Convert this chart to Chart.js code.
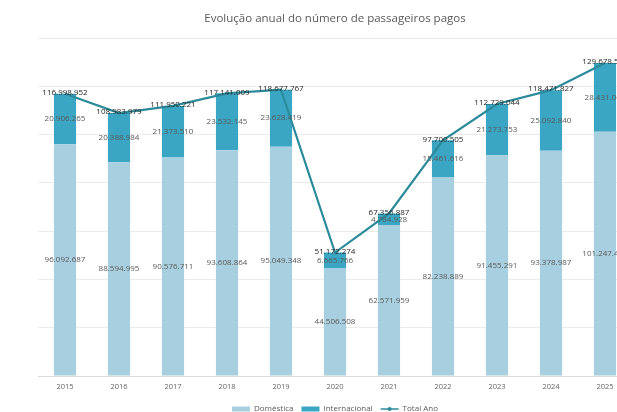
<!DOCTYPE html>
<html>
<head>
<meta charset="utf-8">
<script src="https://cdn.jsdelivr.net/npm/chart.js@4.4.1/dist/chart.umd.min.js"></script>
<style>
html,body{margin:0;padding:0;background:#fff;overflow:hidden;width:617px;height:412px;}
#wrap{position:absolute;left:0;top:0;width:670px;height:423px;}
</style>
</head>
<body>
<div id="wrap"><canvas id="c" width="670" height="423"></canvas></div>
<script>
const years = ['2015','2016','2017','2018','2019','2020','2021','2022','2023','2024','2025'];
const domestica = [96092687, 88594995, 90576711, 93608864, 95049348, 44506508, 62571959, 82238889, 91455291, 93378987, 101247440];
const internacional = [20906265, 20388984, 21373510, 23532145, 23628419, 6665766, 4784928, 15461616, 21273753, 25092840, 28431060];
const totalAno = [116998952, 108983979, 111950221, 117141009, 118677767, 51172274, 67356887, 97700505, 112729044, 118471827, 129678500];

const fmt = v => String(Math.round(v)).replace(/\B(?=(\d{3})+(?!\d))/g, '.');

const labelPlugin = {
  id: 'valLabels',
  afterDatasetsDraw(chart) {
    const ctx = chart.ctx;
    ctx.save();
    ctx.textAlign = 'center';
    ctx.textBaseline = 'middle';
    chart.data.datasets.forEach((ds, di) => {
      const meta = chart.getDatasetMeta(di);
      meta.data.forEach((el, i) => {
        const v = ds.data[i];
        ctx.font = '8px "Open Sans"';
        if (ds.type === 'line') {
          ctx.fillStyle = '#262626';
          ctx.fillText(fmt(v), el.x, el.y - 1);
        } else {
          ctx.fillStyle = '#595959';
          ctx.fillText(fmt(v), el.x, (el.y + el.base) / 2);
        }
      });
    });
    ctx.restore();
  },
  afterDraw(chart) {
    const lg = chart.legend;
    if (!lg || !lg.legendHitBoxes || !lg.legendHitBoxes[2]) return;
    const hb = lg.legendHitBoxes[2];
    const ctx = chart.ctx;
    const bw = lg.options.labels.pointStyleWidth;
    ctx.save();
    ctx.fillStyle = '#2b8b9b';
    ctx.beginPath();
    ctx.arc(hb.left + bw / 2, hb.top + hb.height / 2, 2, 0, Math.PI * 2);
    ctx.fill();
    ctx.restore();
  }
};

new Chart(document.getElementById('c'), {
  data: {
    labels: years,
    datasets: [
      {
        type: 'line', label: 'Total Ano', data: totalAno,
        borderColor: '#2b8b9b', backgroundColor: '#2b8b9b', borderWidth: 2.2,
        pointRadius: 0, tension: 0, order: 0, stack: 'total'
      },
      {
        type: 'bar', label: 'Doméstica', data: domestica,
        backgroundColor: '#a8cfdf', stack: 's', order: 1,
        barPercentage: 0.41, categoryPercentage: 1
      },
      {
        type: 'bar', label: 'Internacional', data: internacional,
        backgroundColor: '#3ba6c4', stack: 's', order: 1,
        barPercentage: 0.41, categoryPercentage: 1
      }
    ]
  },
  options: {
    responsive: false,
    animation: false,
    layout: { padding: { left: 38, right: 38, top: 0, bottom: 0 } },
    scales: {
      x: {
        stacked: true,
        grid: { display: false, drawTicks: false },
        border: { display: true, color: '#d9d9d9' },
        ticks: { color: '#666', font: { family: 'Open Sans', size: 7.5 }, padding: 6 }
      },
      y: {
        stacked: true, min: 0, max: 140000000,
        ticks: { display: false, stepSize: 20000000 },
        grid: { color: '#ebebeb', drawTicks: false },
        border: { display: false }
      }
    },
    plugins: {
      title: {
        display: true,
        text: 'Evolução anual do número de passageiros pagos',
        color: '#595959',
        font: { family: 'Open Sans', size: 11.5, weight: 'normal' },
        padding: { top: 12, bottom: 12.4 }
      },
      legend: {
        position: 'bottom',
        labels: {
          usePointStyle: true,
          pointStyleWidth: 18,
          boxHeight: 5,
          color: '#595959',
          font: { family: 'Open Sans', size: 8 },
          padding: 8,
          generateLabels(chart) {
            const items = Chart.defaults.plugins.legend.labels.generateLabels(chart);
            items.forEach(it => {
              const ds = chart.data.datasets[it.datasetIndex];
              it.pointStyle = ds.type === 'line' ? 'line' : 'rect';
              it.lineWidth = ds.type === 'line' ? 1.5 : 0;
              it.strokeStyle = ds.type === 'line' ? '#2b8b9b' : ds.backgroundColor;
              it.fillStyle = ds.type === 'line' ? '#2b8b9b' : ds.backgroundColor;
            });
            const o = { 'Doméstica': 0, 'Internacional': 1, 'Total Ano': 2 };
            items.sort((a, b) => o[a.text] - o[b.text]);
            return items;
          }
        }
      },
      tooltip: { enabled: false }
    }
  },
  plugins: [labelPlugin]
});
</script>
</body>
</html>
